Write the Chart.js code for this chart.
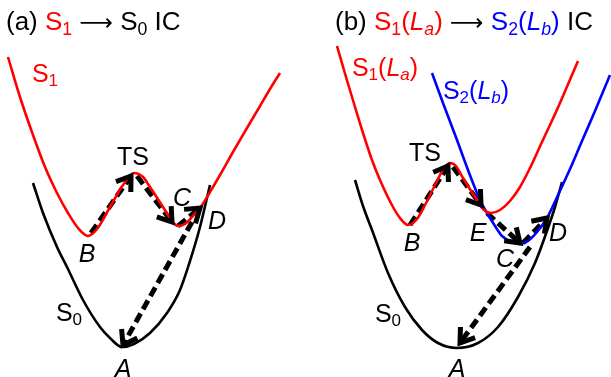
<!DOCTYPE html>
<html><head><meta charset="utf-8">
<script src="https://cdn.jsdelivr.net/npm/chart.js@4/dist/chart.umd.min.js"></script>
<style>
html,body{margin:0;padding:0;background:#fff;}
#wrap{position:relative;width:611px;height:377px;overflow:hidden;font-family:"Liberation Sans",Arial,sans-serif;}
canvas{position:absolute;top:0;}
.t{position:absolute;white-space:nowrap;font-size:25px;line-height:1;color:#000;}
.lbl{transform:translate(-50%,-50%);}
sub{font-size:0.68em;vertical-align:-0.28em;line-height:0;}
.r{color:#ff0000;} .b{color:#0000ff;}
.arr{font-family:"DejaVu Sans",sans-serif;font-size:0.9em;}
</style></head>
<body>
<div id="wrap">
  <canvas id="ca" width="305" height="377" style="left:0"></canvas>
  <canvas id="cb" width="306" height="377" style="left:305px"></canvas>
  <div class="t" style="left:6px;top:8px;font-size:26px">(a) <span class="r">S<sub>1</sub></span> <span class="arr">⟶</span> S<sub>0</sub> IC</div>
  <div class="t" style="left:335px;top:8px;font-size:26px">(b) <span class="r">S<sub>1</sub>(<i>L<sub>a</sub></i>)</span> <span class="arr">⟶</span> <span class="b">S<sub>2</sub>(<i>L<sub>b</sub></i>)</span> IC</div>
</div>
<script>
// ---------- Panel (a): reaction coordinate q, energy E (arb. units) ----------
const aS1_q = [0.08,0.20,0.33,0.45,0.57,0.68,0.78,0.88,0.97,1.10,1.23,1.34,1.43,1.50,1.63,1.72,1.78,1.85,1.92,2.00,2.10,2.20,2.33,2.47,2.60,2.70,2.80];
const aS1_E = [3.20,2.80,2.42,2.10,1.84,1.64,1.49,1.41,1.48,1.70,1.92,2.04,2.00,1.90,1.70,1.56,1.51,1.53,1.60,1.69,1.85,2.02,2.25,2.49,2.71,2.88,3.04];
const aS0_q = [0.33,0.43,0.57,0.67,0.83,1.00,1.10,1.22,1.34,1.50,1.67,1.80,1.90,2.00,2.10];
const aS0_E = [1.94,1.64,1.30,1.10,0.77,0.50,0.39,0.30,0.33,0.44,0.64,0.87,1.16,1.50,1.92];
// arrows: [qStart, EStart, qEnd, EEnd]
const aArrowBtoTS = [0.91,1.44,1.31,2.01];
const aArrowTStoC = [1.37,2.01,1.72,1.55];
const aArrowCtoD  = [1.78,1.51,2.00,1.69];
const aArrowDtoA  = [1.92,1.55,1.23,0.32];

// ---------- Panel (b) ----------
const bS1_q = [0.32,0.41,0.50,0.58,0.67,0.75,0.88,0.95,1.03,1.12,1.20,1.32,1.39,1.45,1.51,1.58,1.70,1.79,1.86,1.95,2.05,2.15,2.25,2.37,2.45,2.55,2.64,2.73];
const bS1_E = [3.31,3.00,2.70,2.44,2.17,1.97,1.70,1.59,1.52,1.58,1.72,1.96,2.09,2.14,2.11,1.99,1.80,1.67,1.64,1.67,1.76,1.90,2.09,2.35,2.52,2.74,2.95,3.16];
const bS2_q = [1.27,1.38,1.52,1.63,1.75,1.82,1.90,1.97,2.07,2.15,2.23,2.32,2.42,2.53,2.65,2.77,2.90,3.05];
const bS2_E = [3.04,2.74,2.37,2.07,1.77,1.64,1.51,1.41,1.35,1.33,1.36,1.45,1.59,1.82,2.08,2.36,2.66,3.02];
const bS0_q = [0.50,0.58,0.67,0.83,1.00,1.17,1.33,1.52,1.73,1.93,2.13,2.30,2.43,2.50,2.57];
const bS0_E = [1.97,1.71,1.47,1.04,0.70,0.47,0.34,0.29,0.34,0.50,0.80,1.14,1.49,1.70,1.95];
const bArrowBtoTS = [1.05,1.52,1.43,2.11];
const bArrowTStoE = [1.48,2.10,1.76,1.72];
const bArrowEtoC  = [1.82,1.64,2.15,1.34];
const bArrowCtoD  = [2.18,1.34,2.42,1.59];
const bArrowDtoA  = [2.25,1.30,1.55,0.34];

const toPts = (qs, Es) => qs.map((q, i) => ({x: q, y: Es[i]}));
const arrowPts = a => [{x: a[0], y: a[1]}, {x: a[2], y: a[3]}];

function curve(qs, Es, color) {
  return {data: toPts(qs, Es), borderColor: color, borderWidth: 2.6, pointRadius: 0,
          cubicInterpolationMode: 'monotone', fill: false};
}
function arrow(a) {
  return {data: arrowPts(a), borderColor: '#000', borderWidth: 5, borderDash: [10, 5],
          pointRadius: 0, tension: 0, fill: false, isArrow: true};
}

const arrowHeads = {
  id: 'arrowHeads',
  afterDatasetsDraw(chart) {
    const ctx = chart.ctx;
    chart.data.datasets.forEach((ds, i) => {
      if (!ds.isArrow) return;
      const pts = chart.getDatasetMeta(i).data;
      const p1 = pts[pts.length - 2], p2 = pts[pts.length - 1];
      const ang = Math.atan2(p2.y - p1.y, p2.x - p1.x);
      const L = 16, w = 0.6;
      ctx.save();
      ctx.strokeStyle = '#000'; ctx.lineWidth = 5; ctx.setLineDash([]);
      ctx.lineJoin = 'miter'; ctx.lineCap = 'butt';
      ctx.beginPath();
      ctx.moveTo(p2.x - L * Math.cos(ang - w), p2.y - L * Math.sin(ang - w));
      ctx.lineTo(p2.x, p2.y);
      ctx.lineTo(p2.x - L * Math.cos(ang + w), p2.y - L * Math.sin(ang + w));
      ctx.stroke();
      ctx.restore();
    });
  }
};

function makeChart(id, qMax, datasets) {
  return new Chart(document.getElementById(id), {
    type: 'line',
    data: {datasets},
    options: {
      responsive: false, animation: false, devicePixelRatio: 1,
      layout: {padding: 0},
      plugins: {legend: {display: false}, tooltip: {enabled: false}},
      scales: {
        x: {type: 'linear', min: 0, max: qMax, display: false},
        y: {type: 'linear', min: 0, max: 3.77, display: false}
      }
    },
    plugins: [arrowHeads]
  });
}

const chartA = makeChart('ca', 3.05, [
  curve(aS1_q, aS1_E, '#ff0000'),
  curve(aS0_q, aS0_E, '#000000'),
  arrow(aArrowBtoTS), arrow(aArrowTStoC), arrow(aArrowCtoD), arrow(aArrowDtoA)
]);
const chartB = makeChart('cb', 3.06, [
  curve(bS1_q, bS1_E, '#ff0000'),
  curve(bS2_q, bS2_E, '#0000ff'),
  curve(bS0_q, bS0_E, '#000000'),
  arrow(bArrowBtoTS), arrow(bArrowTStoE), arrow(bArrowEtoC), arrow(bArrowCtoD), arrow(bArrowDtoA)
]);

// point / curve annotations, anchored in data coordinates
const labelsA = [
  {html: 'S<sub>1</sub>', q: 0.45, E: 3.04, cls: 'r'},
  {html: 'TS', q: 1.33, E: 2.21},
  {html: '<i>B</i>', q: 0.87, E: 1.24},
  {html: '<i>C</i>', q: 1.82, E: 1.80},
  {html: '<i>D</i>', q: 2.17, E: 1.57},
  {html: 'S<sub>0</sub>', q: 0.69, E: 0.65},
  {html: '<i>A</i>', q: 1.23, E: 0.09}
];
const labelsB = [
  {html: 'S<sub>1</sub>(<i>L<sub>a</sub></i>)', q: 0.80, E: 3.10, cls: 'r'},
  {html: 'S<sub>2</sub>(<i>L<sub>b</sub></i>)', q: 1.71, E: 2.87, cls: 'b'},
  {html: 'TS', q: 1.20, E: 2.25},
  {html: '<i>B</i>', q: 1.07, E: 1.35},
  {html: '<i>E</i>', q: 1.73, E: 1.45},
  {html: '<i>C</i>', q: 2.00, E: 1.19},
  {html: '<i>D</i>', q: 2.53, E: 1.45},
  {html: 'S<sub>0</sub>', q: 0.83, E: 0.64},
  {html: '<i>A</i>', q: 1.52, E: 0.09}
];
function placeLabels(chart, labels, offX) {
  const wrap = document.getElementById('wrap');
  labels.forEach(l => {
    const d = document.createElement('div');
    d.className = 't lbl ' + (l.cls || '');
    d.innerHTML = l.html;
    d.style.left = (offX + chart.scales.x.getPixelForValue(l.q)) + 'px';
    d.style.top = chart.scales.y.getPixelForValue(l.E) + 'px';
    wrap.appendChild(d);
  });
}
placeLabels(chartA, labelsA, 0);
placeLabels(chartB, labelsB, 305);
</script>
</body></html>
